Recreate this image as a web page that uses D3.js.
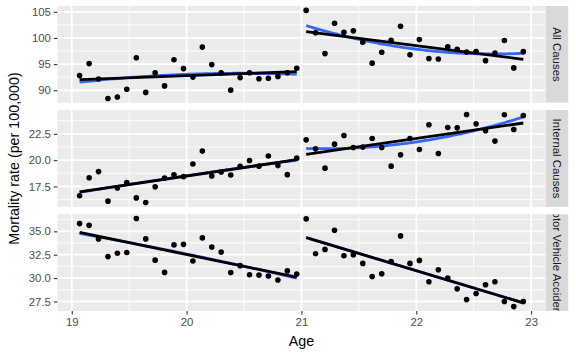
<!DOCTYPE html>
<html><head><meta charset="utf-8">
<script src="https://cdn.jsdelivr.net/npm/d3@7"></script>
<style>body{margin:0;background:#fff}svg{display:block}text{font-family:"Liberation Sans",Arial,Helvetica,sans-serif}</style>
</head><body><svg id="c" width="576" height="355"></svg>
<script>
const age = [19.068,19.151,19.233,19.315,19.397,19.479,19.562,19.644,19.726,19.808,19.890,19.973,
  20.055,20.137,20.219,20.301,20.384,20.466,20.548,20.630,20.712,20.795,20.877,20.959,
  21.041,21.123,21.205,21.288,21.370,21.452,21.534,21.616,21.699,21.781,21.863,21.945,
  22.027,22.110,22.192,22.274,22.356,22.438,22.521,22.603,22.685,22.767,22.849,22.932];
const allCauses = [92.83,95.10,92.14,88.43,88.70,90.19,96.22,89.59,93.36,90.83,95.84,94.14,
  92.52,98.25,94.91,93.35,90.02,92.42,93.36,92.20,92.29,92.65,93.36,94.21,
  105.27,101.01,97.01,102.80,101.10,101.36,99.17,95.18,97.28,99.56,102.23,96.77,
  99.69,96.05,95.98,98.31,97.82,97.30,97.40,95.66,97.12,99.51,94.27,97.38];
const internalCauses = [16.62,18.33,18.91,16.10,17.36,17.87,16.41,15.97,17.46,18.29,18.61,18.43,
  19.63,20.86,18.49,18.87,18.59,19.42,19.97,19.43,20.39,19.48,18.62,20.19,
  21.93,21.07,19.24,21.52,22.34,21.20,21.24,22.05,21.20,19.43,20.50,22.05,
  21.01,23.36,20.63,23.10,23.07,24.34,23.45,22.79,21.81,24.31,22.91,24.24];
const motorVehicle = [35.83,35.64,34.19,32.30,32.66,32.74,36.37,34.19,31.92,30.61,33.55,33.61,
  31.82,34.30,33.33,32.78,30.59,31.33,30.35,30.32,30.22,29.79,30.77,30.44,
  36.33,32.61,33.07,35.11,32.39,32.50,31.57,30.17,30.46,31.78,34.51,31.57,
  31.89,29.60,30.89,30.00,28.85,27.70,28.35,29.28,29.60,27.49,26.95,27.49];
const facetNames = ["All Causes","Internal Causes","Motor Vehicle Accidents"];
const yTicksAll = [90,95,100,105];
const yTicksInternal = [17.5,20.0,22.5];
const yTicksMVA = [27.5,30.0,32.5,35.0];
const xTicks = [19,20,21,22,23];
const xMinor = [19.5,20.5,21.5,22.5];
const cutoff = 21;

const facets = [
  {name:facetNames[0], values:allCauses, ticks:yTicksAll, fmt:d3.format("d")},
  {name:facetNames[1], values:internalCauses, ticks:yTicksInternal, fmt:d3.format(".1f")},
  {name:facetNames[2], values:motorVehicle, ticks:yTicksMVA, fmt:d3.format(".1f")}
];

const svg = d3.select("#c");
const L = 57.4, R = 545.5, T = 6, B = 311, gap = 7.2;
const ph = (B - T - 2*gap) / 3;
const stripX = 545.5, stripW = 23;
const fs = 11.4;

function pad(ext){const w=ext[1]-ext[0];return [ext[0]-0.05*w, ext[1]+0.05*w];}
const x = d3.scaleLinear().domain(pad(d3.extent(age))).range([L, R]);

function polyFit(xs, ys, deg){
  const n = deg+1, xm = d3.mean(xs);
  const A = Array.from({length:n},()=>new Array(n).fill(0)), b = new Array(n).fill(0);
  xs.forEach((xv,i)=>{const u=xv-xm;const p=[];for(let k=0;k<n;k++)p.push(Math.pow(u,k));
    for(let r=0;r<n;r++){b[r]+=p[r]*ys[i];for(let c=0;c<n;c++)A[r][c]+=p[r]*p[c];}});
  for(let i=0;i<n;i++){let m=i;for(let r=i+1;r<n;r++)if(Math.abs(A[r][i])>Math.abs(A[m][i]))m=r;
    [A[i],A[m]]=[A[m],A[i]];[b[i],b[m]]=[b[m],b[i]];
    for(let r=i+1;r<n;r++){const f=A[r][i]/A[i][i];for(let c=i;c<n;c++)A[r][c]-=f*A[i][c];b[r]-=f*b[i];}}
  const co=new Array(n).fill(0);
  for(let i=n-1;i>=0;i--){let s=b[i];for(let c=i+1;c<n;c++)s-=A[i][c]*co[c];co[i]=s/A[i][i];}
  return xv=>{const u=xv-xm;let s=0;for(let k=0;k<n;k++)s+=co[k]*Math.pow(u,k);return s;};
}

facets.forEach((f,fi)=>{
  const top = T + fi*(ph+gap), bot = top + ph;
  const y = d3.scaleLinear().domain(pad(d3.extent(f.values))).range([bot, top]);
  const g = svg.append("g");
  g.append("rect").attr("x",L).attr("y",top).attr("width",R-L).attr("height",ph).attr("fill","#EBEBEB");
  const step = f.ticks[1]-f.ticks[0];
  const dom = y.domain();
  const minorY = [];
  for(let v=f.ticks[0]-step/2; v<=dom[1]; v+=step) if(v>=dom[0]) minorY.push(v);
  minorY.forEach(v=>g.append("line").attr("x1",L).attr("x2",R).attr("y1",y(v)).attr("y2",y(v)).attr("stroke","#fff").attr("stroke-width",0.9));
  xMinor.forEach(v=>g.append("line").attr("x1",x(v)).attr("x2",x(v)).attr("y1",top).attr("y2",bot).attr("stroke","#fff").attr("stroke-width",0.9));
  f.ticks.forEach(v=>g.append("line").attr("x1",L).attr("x2",R).attr("y1",y(v)).attr("y2",y(v)).attr("stroke","#fff").attr("stroke-width",1.8));
  xTicks.forEach(v=>g.append("line").attr("x1",x(v)).attr("x2",x(v)).attr("y1",top).attr("y2",bot).attr("stroke","#fff").attr("stroke-width",1.8));

  const ya = g.append("g").attr("transform",`translate(${L},0)`)
    .call(d3.axisLeft(y).tickValues(f.ticks).tickFormat(f.fmt).tickSize(3.6).tickPadding(2.9));
  ya.select(".domain").remove();
  ya.selectAll("line").attr("stroke","#333").attr("stroke-width",1.1);
  ya.selectAll("text").attr("fill","#4D4D4D").attr("font-size",fs).attr("font-family","Liberation Sans, Arial, sans-serif");

  const pts = age.map((a,i)=>({a, v:f.values[i]}));
  const sides = [pts.filter(p=>p.a<cutoff), pts.filter(p=>p.a>=cutoff)];
  const line = d3.line().x(d=>x(d[0])).y(d=>y(d[1]));
  const clipId = "pc"+fi;
  svg.append("clipPath").attr("id",clipId).append("rect").attr("x",L).attr("y",top).attr("width",R-L).attr("height",ph);
  const dg = g.append("g").attr("clip-path",`url(#${clipId})`);
  sides.forEach(s=>{
    const xs=s.map(p=>p.a), ys=s.map(p=>p.v);
    const lo=d3.min(xs), hi=d3.max(xs);
    const grid=d3.range(0,81).map(k=>lo+(hi-lo)*k/80);
    const q=polyFit(xs,ys,2);
    dg.append("path").attr("d",line(grid.map(t=>[t,q(t)]))).attr("fill","none").attr("stroke","#3366FF").attr("stroke-width",2.8);
  });
  sides.forEach(s=>{
    const xs=s.map(p=>p.a), ys=s.map(p=>p.v);
    const lo=d3.min(xs), hi=d3.max(xs);
    const lf=polyFit(xs,ys,1);
    dg.append("path").attr("d",line([[lo,lf(lo)],[hi,lf(hi)]])).attr("fill","none").attr("stroke","#000").attr("stroke-width",2.8);
  });
  dg.selectAll("circle.p").data(pts).enter().append("circle").attr("class","p")
    .attr("cx",d=>x(d.a)).attr("cy",d=>y(d.v)).attr("r",2.8).attr("fill","#000");

  const sid="sc"+fi;
  svg.append("clipPath").attr("id",sid).append("rect").attr("x",stripX).attr("y",top).attr("width",stripW).attr("height",ph);
  const sg = svg.append("g").attr("clip-path",`url(#${sid})`);
  sg.append("rect").attr("x",stripX).attr("y",top).attr("width",stripW).attr("height",ph).attr("fill","#D9D9D9");
  sg.append("text").attr("transform",`translate(${stripX+stripW/2},${top+ph/2}) rotate(90)`)
    .attr("text-anchor","middle").attr("dominant-baseline","central")
    .attr("fill","#1A1A1A").attr("font-size",fs).text(f.name);

  if(fi===2){
    const xa = svg.append("g").attr("transform",`translate(0,${bot})`)
      .call(d3.axisBottom(x).tickValues(xTicks).tickFormat(d3.format("d")).tickSize(3.6).tickPadding(2.9));
    xa.select(".domain").remove();
    xa.selectAll("line").attr("stroke","#333").attr("stroke-width",1.1);
    xa.selectAll("text").attr("fill","#4D4D4D").attr("font-size",fs).attr("font-family","Liberation Sans, Arial, sans-serif");
  }
});

svg.append("text").attr("x",(L+R)/2).attr("y",346).attr("text-anchor","middle")
  .attr("font-size",14.3).attr("fill","#000").text("Age");
svg.append("text").attr("transform",`translate(19,${(T+B)/2}) rotate(-90)`).attr("text-anchor","middle")
  .attr("font-size",14.3).attr("fill","#000").text("Mortality rate (per 100,000)");
</script></body></html>
